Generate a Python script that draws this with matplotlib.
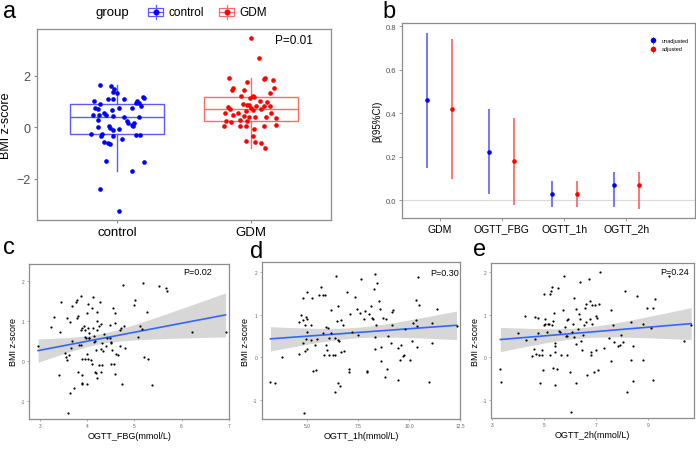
import numpy as np
import matplotlib
matplotlib.use('Agg')
import matplotlib.pyplot as plt
from matplotlib.patches import Rectangle
from matplotlib.lines import Line2D

plt.rcParams['font.family'] = ['Liberation Sans', 'DejaVu Sans']

control_y = [1.65, 1.60, 1.49, 1.39, 1.32, 1.19, 1.15, 1.11, 1.10, 1.10,
             1.01, 1.03, 0.95, 0.93, 0.84, 0.90, 0.75, 0.71, 0.74, 0.69,
             0.77, 0.56, 0.48, 0.48, 0.47, 0.44, 0.40, 0.41, 0.28, 0.25,
             0.17, 0.17, 0.08, 0.07, 0.03, 0.05, -0.01, -0.09, -0.06, -0.27,
             -0.27, -0.35, -0.32, -0.28, -0.30, -0.44, -0.58, -0.61, -0.66, -1.31,
             -1.68, -1.36, -2.41, -3.25]
control_jit = [-0.130, -0.048, -0.025, -0.030, 0.000, 0.195, 0.198, 0.053, -0.065, -0.033,
               -0.175, 0.145, 0.138, 0.163, 0.175, -0.130, -0.165, -0.145, 0.015, -0.038,
               0.113, -0.100, -0.178, -0.133, -0.085, -0.028, 0.050, 0.160, -0.140, 0.070,
               0.080, 0.123, 0.108, 0.115, -0.145, -0.063, -0.050, -0.033, 0.015, -0.193,
               -0.113, -0.118, -0.028, 0.138, 0.173, 0.038, -0.100, -0.070, -0.055, -0.085,
               0.113, 0.200, -0.125, 0.010]
gdm_y = [3.46, 2.71, 1.92, 1.93, 1.88, 1.84, 1.76, 1.51, 1.46, 1.54,
         1.44, 1.35, 1.23, 1.18, 1.20, 1.14, 1.03, 0.98, 0.89, 0.88,
         0.87, 0.82, 0.83, 0.82, 0.78, 0.72, 0.75, 0.70, 0.66, 0.63,
         0.56, 0.56, 0.56, 0.48, 0.45, 0.41, 0.40, 0.41, 0.35, 0.26,
         0.28, 0.25, 0.21, 0.06, 0.06, 0.06, 0.05, 0.10, -0.08, -0.32,
         -0.52, -0.58, -0.61, -0.79]
gdm_jit = [0.000, 0.060, -0.165, 0.103, 0.095, 0.163, -0.030, -0.130, -0.140, 0.175,
           -0.048, 0.145, 0.015, 0.023, -0.070, -0.003, 0.068, 0.123, -0.055, -0.030,
           -0.015, 0.040, 0.098, 0.140, -0.170, -0.155, 0.005, 0.073, 0.018, -0.035,
           -0.190, -0.093, 0.150, -0.135, -0.048, -0.010, 0.030, 0.110, 0.185, -0.183,
           -0.080, -0.025, -0.145, -0.083, -0.198, -0.033, 0.095, 0.190, 0.025, 0.020,
           -0.035, 0.035, 0.073, 0.108]
groups = ['control', 'GDM']

# ---------------- data: panel b (beta and 95% CI) ----------------
exposures = ['GDM', 'OGTT_FBG', 'OGTT_1h', 'OGTT_2h']
beta_unadj = [0.46, 0.22, 0.03, 0.07]
lo_unadj = [0.15, 0.03, -0.03, -0.03]
hi_unadj = [0.77, 0.42, 0.09, 0.13]
beta_adj = [0.42, 0.18, 0.03, 0.07]
lo_adj = [0.10, -0.02, -0.03, -0.04]
hi_adj = [0.74, 0.38, 0.09, 0.13]

# ---------------- data: panel c (OGTT_FBG vs BMI z-score) ----------------
fbg_x = [2.96, 3.30, 3.23, 3.44, 3.42, 3.41, 3.57, 3.64, 3.67, 3.76, 3.78, 3.79, 3.80,
         3.87, 3.86, 3.89, 3.93, 3.95, 3.99, 4.01, 4.02, 4.03, 4.03, 4.10, 4.12, 4.12,
         4.17, 4.19, 4.20, 4.20, 4.21, 4.24, 4.27, 4.29, 4.31, 4.34, 4.36, 4.39, 4.41,
         4.48, 4.48, 4.50, 4.51, 4.52, 4.51, 4.57, 4.55, 4.58, 4.59, 4.59, 4.62, 4.65,
         4.70, 4.70, 4.72, 4.74, 4.76, 4.78, 4.79, 4.99, 5.01, 5.07, 5.11, 5.16, 5.18,
         5.20, 5.26, 5.28, 5.37, 5.53, 5.66, 5.70, 6.23, 6.93,
         3.54, 3.56, 3.58, 3.61, 3.66, 3.63, 3.60, 3.72, 3.80, 3.88, 3.89, 3.90, 3.99,
         3.82, 3.87, 3.90, 3.96, 4.00, 4.02, 4.07, 4.11, 4.16, 4.18, 4.21, 4.30, 4.31,
         4.25, 3.98, 4.04, 4.14, 4.15, 4.29, 3.95, 3.67]
fbg_y = [0.38, 1.11, 0.86, 1.49, 0.74, -0.34, 1.07, 0.99, 1.39, 1.49, 1.54, 1.09, 1.13,
         1.64, 0.78, 0.83, 0.89, 0.79, 1.20, 1.42, 0.83, 0.70, 0.58, 1.33, 1.61, 0.83,
         0.51, 0.28, 1.24, 1.01, 0.77, 0.87, 1.49, 0.92, 0.44, 0.25, 0.68, 0.37, 0.58,
         0.91, 0.57, 0.47, 0.44, 0.27, -0.08, -0.08, 1.33, 1.20, 0.95, -0.33, 0.18, 0.15,
         0.38, 0.77, 0.83, -0.58, 1.90, 0.89, 0.33, 1.41, 1.53, 0.61, 0.89, 0.80, 1.95,
         0.11, 1.23, 0.06, -0.60, 1.88, 1.82, 1.75, 0.74, 0.74,
         0.19, 0.10, 0.03, 0.15, 0.33, -0.80, -1.29, -0.68, -0.27, -0.55, -0.34, -0.58, -0.58,
         0.40, 0.41, 0.05, 0.05, 0.17, 0.05, 0.03, -0.07, -0.28, -0.30, -0.43, -0.27, -0.10,
         -0.10, 0.59, 0.57, 0.48, 0.62, 0.30, 0.61, 0.51]

# ---------------- data: panel d (OGTT_1h vs BMI z-score) ----------------
h1_x = [3.22, 3.45, 3.77, 4.60, 4.61, 4.72, 4.79, 4.79, 4.81, 4.84, 4.89, 4.90, 4.94, 4.97,
        5.00, 5.03, 5.03, 5.02, 5.19, 5.18, 5.24, 5.31, 5.39, 5.47, 5.48, 5.60, 5.69, 5.78,
        5.81, 5.89, 5.86, 5.92, 5.95, 6.00, 6.03, 6.07, 6.10, 6.16, 6.20, 6.28, 6.36, 6.37,
        6.39, 6.45, 6.49, 6.52, 6.52, 6.53, 6.58, 6.62, 6.65, 6.68, 6.79, 6.82, 6.97, 7.07,
        7.07, 7.10, 7.23, 7.36, 7.46, 7.50, 7.60, 7.67, 7.79, 7.84, 7.94, 7.97, 8.05, 8.13,
        8.17, 8.26, 8.28, 8.33, 8.36, 8.38, 8.34, 8.44, 8.54, 8.60, 8.62, 8.65, 8.73, 8.84,
        8.88, 8.94, 8.97, 9.10, 9.15, 9.17, 9.23, 9.46, 9.44, 9.56, 9.62, 9.70, 9.75, 9.83,
        10.04, 10.15, 10.22, 10.33, 10.35, 10.41, 10.41, 10.44, 10.49, 10.99, 11.14, 11.14,
        11.35, 12.33]
h1_y = [-0.57, -0.60, 0.02, 0.84, 0.08, 0.99, 1.41, 0.89, 0.35, -1.30, 0.77, 0.16, 0.44, 0.95,
        1.53, 0.90, 0.59, 0.21, 0.77, 0.41, 1.39, -0.31, 0.29, -0.29, 0.43, 1.48, 1.65, 0.57,
        1.48, 1.48, 0.05, 0.29, 0.72, 0.17, 0.69, 0.05, 0.46, 1.12, 0.57, 0.05, -0.81, 0.05,
        0.46, 1.92, 0.85, -0.60, 0.40, 1.21, 0.38, -0.67, 0.87, 0.13, 0.77, 0.16, 1.53, -0.27,
        -0.35, 1.02, 0.59, 1.43, 1.15, 0.52, 1.04, 1.84, 0.90, 1.10, -0.34, -0.31, 1.03, 1.21,
        0.94, 0.90, 1.61, 0.49, 1.97, 0.76, 0.19, 1.75, 1.32, 1.14, 0.24, -0.09, 0.94, -0.45,
        0.90, -0.27, 0.51, 0.34, 1.08, 0.77, 1.12, -0.53, 0.22, -0.07, 0.29, 0.04, 0.05, 0.68,
        -0.07, 0.38, 0.80, 1.35, 0.88, 0.25, 0.75, 1.89, 1.23, -0.57, 0.34, 0.82,
        1.15, 0.73]

# ---------------- data: panel e (OGTT_2h vs BMI z-score) ----------------
h2_x = [3.31, 3.33, 4.00, 4.26, 4.30, 4.53, 4.62, 4.65, 4.66, 4.70, 4.75, 4.78, 4.80, 4.83,
        4.90, 4.92, 4.94, 4.98, 5.01, 5.02, 5.03, 5.11, 5.14, 5.19, 5.21, 5.23, 5.27, 5.30,
        5.32, 5.33, 5.36, 5.37, 5.40, 5.40, 5.41, 5.42, 5.50, 5.55, 5.56, 5.61, 5.64, 5.72,
        5.77, 5.81, 5.84, 5.87, 5.90, 5.92, 5.90, 6.00, 6.04, 6.09, 6.14, 6.13, 6.14, 6.22,
        6.21, 6.24, 6.32, 6.35, 6.38, 6.40, 6.44, 6.45, 6.50, 6.53, 6.57, 6.60, 6.63, 6.67,
        6.72, 6.76, 6.77, 6.80, 6.80, 6.85, 6.86, 6.92, 6.96, 6.99, 7.00, 7.03, 7.08, 7.11,
        7.17, 7.30, 7.51, 7.57, 7.58, 7.66, 7.70, 7.83, 7.91, 7.96, 8.04, 8.13, 8.21, 8.35,
        8.35, 8.43, 8.43, 8.57, 8.82, 8.82, 8.97, 9.13, 9.18, 9.20, 9.29, 9.80, 10.38, 10.67]
h2_y = [-0.28, -0.58, 0.57, 0.97, 0.41, 0.02, 0.20, 0.43, 0.95, 0.08, 0.92, 0.57, 0.05, -0.60,
        0.18, 0.05, -0.30, 0.75, 1.48, 0.89, 0.79, 0.59, 0.79, 0.78, 0.05, 1.48, 1.56, 1.66,
        0.76, -0.26, 0.86, 1.04, 0.34, 0.27, -0.65, 0.12, -0.28, 1.63, 0.62, 0.59, 0.05, 1.12,
        1.92, 0.71, 0.49, 0.49, 0.87, 0.90, 0.04, -0.35, -1.30, 0.59, 1.40, 0.78, 0.47, 1.13,
        0.31, -0.60, 0.67, 1.01, 1.77, 0.90, 0.39, 0.18, 0.51, 0.75, 1.16, 1.25, 0.82, -0.43,
        1.85, 1.33, 0.91, 0.12, 0.05, 0.79, 1.22, -0.34, 1.22, 0.97, 0.18, 0.92, -0.31, 1.25,
        2.00, 0.21, 0.46, -0.08, 1.10, 0.75, 0.35, 0.26, 0.29, 0.53, 0.35, 1.55, -0.81, 0.82,
        -0.06, 0.26, -0.57, 1.44, 0.78, -0.07, 1.15, 0.69, -0.53, 1.16, 1.37, 1.90, 0.38, 0.75]

BLUE = '#0000FF'
RED = '#FF0000'
FRAME = '#8c8c8c'
TICKTXT = '#4d4d4d'

W, H = 696, 452
fig = plt.figure(figsize=(W / 100, H / 100), dpi=100)


def px_axes(x0, y0, x1, y1):
    # axes from pixel box (top-left origin)
    return fig.add_axes([x0 / W, 1 - y1 / H, (x1 - x0) / W, (y1 - y0) / H])


def frame(ax, lw=0.9):
    for s in ax.spines.values():
        s.set_color(FRAME)
        s.set_linewidth(lw)


def lm_band(x, y, xs):
    # simple OLS fit with 95% confidence band, like geom_smooth(method='lm')
    x = np.asarray(x); y = np.asarray(y)
    b, a = np.polyfit(x, y, 1)
    n = len(x)
    s = np.sqrt(np.sum((y - (a + b * x)) ** 2) / (n - 2))
    xm = x.mean()
    sxx = np.sum((x - xm) ** 2)
    se = s * np.sqrt(1 / n + (xs - xm) ** 2 / sxx)
    fit = a + b * xs
    return fit, fit - 1.98 * se, fit + 1.98 * se


# ================= panel a =================
ax = px_axes(37, 30, 331, 221)
frame(ax)
cols = [BLUE, RED]
box_cols = ['#5a5aff', '#ff6a6a']
for i, (vals, jit) in enumerate([(control_y, control_jit), (gdm_y, gdm_jit)]):
    bp = ax.boxplot(vals, positions=[i + 1], widths=0.7, showfliers=False,
                    patch_artist=True, whis=1.5)
    for b in bp['boxes']:
        b.set_facecolor('white'); b.set_edgecolor(box_cols[i]); b.set_linewidth(1.0)
    for k in ['whiskers', 'medians']:
        for l in bp[k]:
            l.set_color(box_cols[i]); l.set_linewidth(1.0)
    for l in bp['caps']:
        l.set_visible(False)
    ax.scatter(np.array(jit) + i + 1, vals, s=11, color=cols[i], zorder=3, lw=0)
ax.set_xlim(0.4, 2.6)
ax.set_ylim(-3.6, 3.82)
ax.set_xticks([1, 2])
ax.set_xticklabels(groups, fontsize=9.5)
ax.set_yticks([-2, 0, 2])
ax.set_yticklabels(['\u22122', '0', '2'], fontsize=9, color=TICKTXT)
ax.tick_params(length=2.5, color=FRAME, width=0.8, pad=2)
ax.set_ylabel('BMI z-score', fontsize=9, labelpad=3)
ax.text(0.94, 0.94, 'P=0.01', transform=ax.transAxes, ha='right', va='center', fontsize=8.5)

# legend for panel a, drawn as box keys
fig.text(95 / W, 1 - 13 / H, 'group', fontsize=9.5, va='center')
for cx, c, lab in [(155.5, '#5a5aff', 'control'), (226.5, '#ff6a6a', 'GDM')]:
    fig.add_artist(Rectangle(((cx - 7.5) / W, 1 - 17 / H), 15 / W, 8 / H,
                             transform=fig.transFigure, fill=False, ec=c, lw=0.9))
    fig.add_artist(Line2D([cx / W, cx / W], [1 - 20 / H, 1 - 6 / H], color=c, lw=0.9))
    fig.add_artist(Line2D([(cx - 7.5) / W, (cx + 7.5) / W], [1 - 13 / H, 1 - 13 / H],
                          color=c, lw=0.9))
    fig.add_artist(Line2D([cx / W], [1 - 13 / H], marker='o', ms=3.3,
                          color=BLUE if lab == 'control' else RED, lw=0))
    fig.text((cx + 13) / W, 1 - 12.5 / H, lab, fontsize=8.5, va='center')

# ================= panel b =================
ax = px_axes(401.7, 24, 695, 219)
frame(ax)
pos = np.arange(1, len(exposures) + 1)
ax.axhline(0, color='#d9d9d9', lw=0.8, zorder=0)
ax.vlines(pos - 0.2, lo_unadj, hi_unadj, color='#6b6bff', lw=1.3)
ax.vlines(pos + 0.2, lo_adj, hi_adj, color='#ff6b6b', lw=1.3)
ax.scatter(pos - 0.2, beta_unadj, s=11, color=BLUE, zorder=3, lw=0)
ax.scatter(pos + 0.2, beta_adj, s=11, color=RED, zorder=3, lw=0)
ax.set_xlim(0.393, 5.1)
ax.set_ylim(-0.081, 0.815)
ax.set_xticks(pos)
ax.set_xticklabels(exposures, fontsize=7.5)
ax.set_yticks([0.0, 0.2, 0.4, 0.6, 0.8])
ax.set_yticklabels(['0.0', '0.2', '0.4', '0.6', '0.8'], fontsize=5.5, color=TICKTXT)
ax.tick_params(length=2, color=FRAME, width=0.6, pad=2)
ax.set_ylabel('\u03b2(95%CI)', fontsize=7, labelpad=2)
# small legend
for yy, c, lab in [(41, BLUE, 'unadjusted'), (50, RED, 'adjusted')]:
    fig.add_artist(Line2D([653 / W, 653 / W], [1 - (yy - 3.5) / H, 1 - (yy + 3.5) / H],
                          color=c, lw=0.6, alpha=0.6))
    fig.add_artist(Line2D([653 / W], [1 - yy / H], marker='o', ms=3, color=c, lw=0))
    fig.text(662 / W, 1 - yy / H, lab, fontsize=4, va='center')

# ================= panels c, d, e =================
scatter_panels = [
    ((29, 265, 229.3, 420), fbg_x, fbg_y, (2.767, 7.01), (-1.45, 2.43),
     [3, 4, 5, 6, 7], ['3', '4', '5', '6', '7'], 'OGTT_FBG(mmol/L)', 'P=0.02', (197.7, 272.7)),
    ((261.7, 263.3, 460, 420), h1_x, h1_y, (2.79, 12.45), (-1.45, 2.24),
     [5, 7.5, 10, 12.5], ['5.0', '7.5', '10.0', '12.5'], 'OGTT_1h(mmol/L)', 'P=0.30', (444.3, 273.3)),
    ((491, 264.3, 694.3, 419.3), h2_x, h2_y, (2.95, 10.79), (-1.44, 2.21),
     [3, 5, 7, 9], ['3', '5', '7', '9'], 'OGTT_2h(mmol/L)', 'P=0.24', (674.3, 272.7)),
]
for box, xs, ys, xl, yl, xt, xtl, xlab, ptxt, ppos in scatter_panels:
    ax = px_axes(*box)
    frame(ax)
    grid = np.linspace(min(xs), max(xs), 100)
    fit, lo, hi = lm_band(xs, ys, grid)
    ax.fill_between(grid, lo, hi, color='#bdbdbd', alpha=0.6, lw=0, zorder=1)
    ax.plot(grid, fit, color='#3366FF', lw=1.2, zorder=2)
    ax.scatter(xs, ys, s=2.5, color='black', lw=0, zorder=3)
    ax.set_xlim(*xl)
    ax.set_ylim(*yl)
    ax.set_xticks(xt)
    ax.set_xticklabels(xtl, fontsize=3.5, color='#666666')
    ax.set_yticks([-1, 0, 1, 2])
    ax.set_yticklabels(['-1', '0', '1', '2'], fontsize=3.5, color='#666666')
    ax.tick_params(length=1.5, color=FRAME, width=0.5, pad=1.5)
    ax.set_xlabel(xlab, fontsize=6.5, labelpad=2)
    ax.set_ylabel('BMI z-score', fontsize=6.5, labelpad=2)
    fig.text(ppos[0] / W, 1 - ppos[1] / H, ptxt, fontsize=6.5, ha='center', va='center')

# panel letters
for lab, x, y in [('a', 3, 12), ('b', 382, 12), ('c', 3, 248), ('d', 250, 252), ('e', 473, 250)]:
    fig.text(x / W, 1 - y / H, lab, fontsize=17, va='center', ha='left')

fig.savefig('out.png', dpi=100)
